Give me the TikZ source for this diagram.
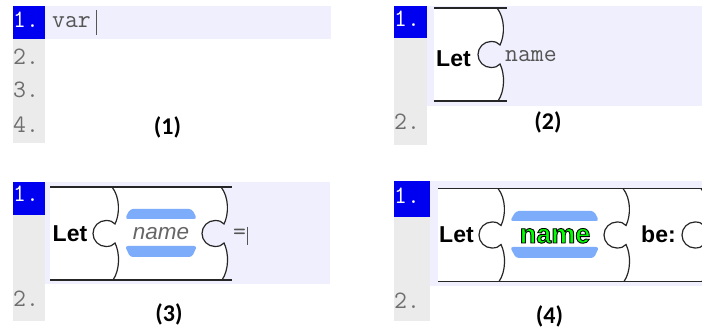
\documentclass[tikz,border=0pt]{standalone}
\usepackage{fontspec}
\usepackage{tikz}
\setmainfont{Liberation Sans}
\newfontfamily\tagfont{Carlito}

\definecolor{gutter}{RGB}{235,235,235}
\definecolor{curline}{RGB}{239,239,253}
\definecolor{numblue}{RGB}{0,0,240}
\definecolor{numgray}{RGB}{110,110,110}
\definecolor{codegray}{RGB}{85,85,85}
\definecolor{barblue}{RGB}{125,172,250}
\definecolor{namegreen}{RGB}{0,255,0}

% one puzzle seam, from its top (0,0) down to (1,93)
\newcommand{\jointcurve}{.. controls (8,10) and (8,27) .. (3,37)
    .. controls (1,34.5) and (-2,33.5) .. (-6,33.5)
    .. controls (-13.2,33.5) and (-19,39.3) .. (-19,46.5)
    .. controls (-19,53.7) and (-13.2,59.5) .. (-6,59.5)
    .. controls (-2,59.5) and (1,58.5) .. (3,56)
    .. controls (8,66) and (8,83) .. (1,93)}
% green text with a black outline
\newcommand{\outlined}[1]{\special{pdf:literal direct 0 0 0 RG 0.9 w 2 Tr}#1\special{pdf:literal direct 0 Tr}}

\begin{document}
\begin{tikzpicture}[
        x=1pt, y=-1pt,
        every node/.style={inner sep=0pt, anchor=base west},
        codetxt/.style={font=\ttfamily\fontsize{25}{29}\selectfont, text=codegray},
        lineno/.style={font=\ttfamily\fontsize{25}{29}\selectfont, text=numgray},
        curno/.style={lineno, text=white},
        word/.style={font=\bfseries\fontsize{23}{27}\selectfont},
        slotword/.style={font=\itshape\fontsize{22.5}{27}\selectfont, text=black!60, anchor=base},
        greenword/.style={font=\bfseries\fontsize{27}{31}\selectfont, text=namegreen, anchor=base},
        tagtxt/.style={font=\tagfont\bfseries\fontsize{24}{28}\selectfont, anchor=center},
        rail/.style={line width=1.8pt, draw=black!85},
        seam/.style={line width=1.2pt, draw=black!85},
        slot/.style={fill=barblue, rounded corners=3pt},
        pics/joint/.style={code={\draw[seam] (0,0) \jointcurve;}}
    ]
    \useasboundingbox (0,0) rectangle (702,328);

    % (1) plain text
    \fill[gutter] (13,6) rectangle (45,143);
    \fill[numblue] (13,6) rectangle (45,39);
    \fill[curline] (45,6) rectangle (331,39);
    \node[curno] (onea) at (13,28) {1.};
    \node[lineno] (twoa) at (13,65) {2.};
    \node[lineno] (threea) at (13,98) {3.};
    \node[lineno] (foura) at (13,133) {4.};
    \node[codetxt] (var) at (52,28) {var};
    \draw[codegray, line width=0.8pt] (96,10) -- (96,35);
    \node[tagtxt] (tag1) at (167.5,127) {(1)};

    % (2) first block
    \fill[gutter] (394,6) rectangle (427,145);
    \fill[numblue] (394,6) rectangle (427,38);
    \fill[curline] (427,6) rectangle (702,106);
    \begin{scope}[shift={(497,8)}]
        \fill[white] (-63,0) -- (0,0) \jointcurve -- (-63,93) -- cycle;
    \end{scope}
    \pic at (497,8) {joint};
    \draw[rail] (434,8) -- (507,8);
    \draw[rail] (434,101) -- (507,101);
    \node[curno] (oneb) at (394,27) {1.};
    \node[lineno] (twob) at (394,130) {2.};
    \node[word] (letb) at (436,67) {Let};
    \node[codetxt] (nameb) at (505,62) {name};
    \node[tagtxt] (tag2) at (548,122) {(2)};

    % (3) name slot
    \fill[gutter] (13,182) rectangle (45,321);
    \fill[numblue] (13,182) rectangle (45,215);
    \fill[curline] (45,182) rectangle (330,284);
    \begin{scope}[shift={(221,187)}]
        \fill[white] (-171,0) -- (0,0) \jointcurve -- (-171,93) -- cycle;
    \end{scope}
    \pic at (112,187) {joint};
    \pic at (221,187) {joint};
    \draw[rail] (50,187) -- (232,187);
    \draw[rail] (50,280) -- (232,280);
    \fill[slot] (130,209) -- (192,209) -- (197,219) -- (125,219) -- cycle;
    \fill[slot] (125,246) -- (197,246) -- (192,257) -- (130,257) -- cycle;
    \node[curno] (onec) at (13,202) {1.};
    \node[lineno] (twoc) at (13,307) {2.};
    \node[word] (letc) at (52.5,241.5) {Let};
    \node[slotword] (namec) at (161,240) {name};
    \node[codetxt, anchor=center] (eqc) at (239.5,234.5) {=};
    \draw[codegray, line width=0.8pt] (247,227) -- (247,245);
    \node[tagtxt] (tag3) at (169,314) {(3)};

    % (4) filled in
    \fill[gutter] (394,181) rectangle (430,321);
    \fill[numblue] (394,181) rectangle (430,217);
    \fill[curline] (430,181) rectangle (702,286);
    \fill[white] (438,188.5) rectangle (702,281.5);
    \pic at (498,188.5) {joint};
    \pic at (623,188.5) {joint};
    \pic at (701,188.5) {joint};
    \draw[rail] (438,188.5) -- (702,188.5);
    \draw[rail] (438,281.5) -- (702,281.5);
    \fill[slot] (516,211) -- (594,211) -- (599,221) -- (510,221) -- cycle;
    \fill[slot] (510,247) -- (599,247) -- (594,258) -- (516,258) -- cycle;
    \node[curno] (oned) at (394,204) {1.};
    \node[lineno] (twod) at (394,309) {2.};
    \node[word] (letd) at (439,243) {Let};
    \node[greenword] (named) at (555,243) {\outlined{name}};
    \node[word] (bed) at (641,243) {be:};
    \node[tagtxt] (tag4) at (549.5,316) {(4)};
\end{tikzpicture}
\end{document}
